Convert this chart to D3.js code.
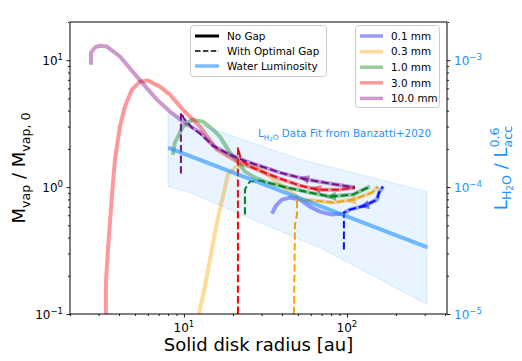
<!DOCTYPE html>
<html><head><meta charset="utf-8">
<script src="https://cdn.jsdelivr.net/npm/d3@7"></script>
<style>body{margin:0;background:#fff}svg{font-family:"DejaVu Sans",sans-serif}</style>
</head><body><svg id="c" width="522" height="361"></svg>
<script>
// ---------------- data ----------------
const sizes = ["0.1 mm", "0.3 mm", "1.0 mm", "3.0 mm", "10.0 mm"];
const colors = ["blue", "orange", "green", "red", "purple"];

// No gap (solid) curves: radius [au], Mvap/Mvap0
const solid01X = [34.67, 36.68, 39.93, 44.72, 51.5, 59.29, 68.29, 80.9, 94.5, 104.3, 128.9, 152.8, 157.2, 166.3];
const solid01Y = [0.618, 0.715, 0.797, 0.827, 0.797, 0.702, 0.641, 0.607, 0.618, 0.665, 0.715, 0.797, 0.905, 1.009];
const solid03X = [12.36, 13.45, 14.43, 15.94, 17.35, 18.62, 20.56, 23.0, 28.05, 33.7, 41.64, 49.35, 51.5, 61.85, 82.1, 108.9, 142.4, 155];
const solid03Y = [0.1, 0.164, 0.268, 0.525, 0.842, 1.254, 1.42, 1.53, 1.42, 1.21, 0.991, 0.842, 0.797, 0.783, 0.755, 0.797, 0.905, 1.009];
const solid10X = [8.56, 8.80, 9.86, 11.20, 13.08, 15.07, 16.63, 19.15, 21.44, 23.67, 27.27, 31.40, 40.50, 59.29, 78.6, 108.9, 138.4];
const solid10Y = [1.80, 2.24, 3.00, 3.40, 3.28, 2.84, 2.50, 1.87, 1.588, 1.325, 1.188, 1.105, 1.009, 0.905, 0.842, 0.873, 1.009];
const solid30X = [3.323, 3.323, 3.418, 3.6, 3.773, 4.050, 4.345, 4.797, 5.372, 6.014, 7.125, 8.207, 9.86, 12.54, 15.94, 21.14, 25.41, 32.30, 38.82, 51.5, 66.4, 90.6, 112.0];
const solid30Y = [0.1, 0.177, 0.322, 0.797, 1.647, 3.00, 4.31, 5.87, 6.78, 6.91, 6.19, 5.36, 4.08, 3.00, 1.975, 1.588, 1.451, 1.278, 1.167, 1.028, 0.955, 0.955, 0.991];
const solid100X = [2.69, 2.69, 2.85, 3.05, 3.37, 4.05, 5.53, 6.83, 8.21, 9.86, 12.54, 15.07, 19.15, 24.35, 38.82, 56.83, 78.6, 112.0];
const solid100Y = [9.2, 11.5, 12.6, 13.0, 12.8, 10.7, 6.66, 4.89, 3.94, 3.28, 2.70, 2.12, 1.80, 1.588, 1.301, 1.146, 1.066, 0.991];

// With optimal gap (dashed) curves
const dash01X = [95.8, 95.8, 104.3, 128.9, 152.8, 157.2, 166.3];
const dash01Y = [0.322, 0.630, 0.665, 0.715, 0.797, 0.905, 1.009];
const dash03X = [47.3, 48.0, 49.35, 49.35, 51.5, 61.85, 82.1, 108.9, 142.4, 155];
const dash03Y = [0.1, 0.506, 0.607, 0.842, 0.797, 0.783, 0.755, 0.797, 0.905, 1.009];
const dash10X = [23.67, 23.67, 24.35, 25.41, 29.27, 40.50, 59.29, 78.6, 108.9, 138.4];
const dash10Y = [0.607, 0.95, 1.028, 1.105, 1.125, 1.009, 0.905, 0.842, 0.873, 1.009];
const dash30X = [21.44, 21.44, 22.37, 25.41, 32.30, 38.82, 51.5, 66.4, 90.6, 112.0];
const dash30Y = [0.1, 2.05, 1.647, 1.451, 1.278, 1.167, 1.028, 0.955, 0.955, 0.991];
const dash100X = [9.58, 9.58, 10.0, 11.20, 12.54, 15.07, 19.15, 24.35, 38.82, 56.83, 78.6, 112.0];
const dash100Y = [1.278, 3.87, 3.47, 2.94, 2.64, 2.12, 1.80, 1.588, 1.301, 1.146, 1.066, 0.991];

// direction arrows on dashed curves (same order as sizes)
const arrowX = [128.9, 107.3, 80.9, 65.5, 55.25];
const arrowY = [0.715, 0.783, 0.842, 0.973, 1.167];

// water luminosity (right axis)
const waterX = [8.0, 312];
const waterY = [2.05e-4, 3.35e-5];
const bandUpX = [8.0, 9.45, 49.35, 310];
const bandUpY = [3.87e-4, 3.53e-4, 1.68e-4, 9.2e-5];
const bandLoX = [8.0, 10.89, 51.5, 68.3, 310];
const bandLoY = [1.01e-4, 9.05e-5, 3.86e-5, 3.34e-5, 1.19e-5];

const xMajor = [10, 100];
const yMajor = [0.1, 1, 10];
const y2Major = [1e-5, 1e-4, 1e-3];
const xTickLabels = [["10", "1"], ["10", "2"]];
const yTickLabels = [["10", "\u22121"], ["10", "0"], ["10", "1"]];
const y2TickLabels = [["10", "\u22125"], ["10", "\u22124"], ["10", "\u22123"]];

// ---------------- chart ----------------
const L = 70, R = 447, T = 22, B = 314;
const x = d3.scaleLog().domain([2, 411]).range([L, R]);
const y = d3.scaleLog().domain([0.1, 20]).range([B, T]);
const y2 = d3.scaleLog().domain([1e-5, 2e-3]).range([B, T]);
const svg = d3.select("#c");
svg.append("defs").append("clipPath").attr("id", "clip")
  .append("rect").attr("x", L).attr("y", T).attr("width", R - L).attr("height", B - T);
const plot = svg.append("g").attr("clip-path", "url(#clip)");
const zip = (a, b) => a.map((v, i) => [v, b[i]]);
const line = d3.line().x(d => x(d[0])).y(d => y(d[1]));
const line2 = d3.line().x(d => x(d[0])).y(d => y2(d[1]));

const solids = [[solid01X, solid01Y], [solid03X, solid03Y], [solid10X, solid10Y], [solid30X, solid30Y], [solid100X, solid100Y]];
const dashes = [[dash01X, dash01Y], [dash03X, dash03Y], [dash10X, dash10Y], [dash30X, dash30Y], [dash100X, dash100Y]];

solids.forEach((s, i) => {
  plot.append("path").attr("d", line(zip(s[0], s[1]))).attr("fill", "none")
    .attr("stroke", colors[i]).attr("stroke-opacity", 0.4).attr("stroke-width", 4)
    .attr("stroke-linejoin", "round");
});
dashes.forEach((s, i) => {
  plot.append("path").attr("d", line(zip(s[0], s[1]))).attr("fill", "none")
    .attr("stroke", colors[i]).attr("stroke-width", 2).attr("stroke-dasharray", "7.4,3.2");
});
// arrows
arrowX.forEach((axv, i) => {
  const dx = dashes[i][0], dy = dashes[i][1];
  let k = 1;
  for (let j = 2; j < dx.length; j++) { if (dx[j - 1] <= axv && axv <= dx[j]) { k = j; break; } }
  const p0 = [x(dx[k - 1]), y(dy[k - 1])], p1 = [x(dx[k]), y(dy[k])];
  const ang = Math.atan2(p0[1] - p1[1], p0[0] - p1[0]) * 180 / Math.PI;
  plot.append("path").attr("d", "M6,0L-4,-4.5L-4,4.5Z")
    .attr("transform", `translate(${x(axv)},${y(arrowY[i])}) rotate(${ang})`)
    .attr("fill", colors[i]).attr("fill-opacity", 0.5);
});
// twin axis content
const band = zip(bandUpX, bandUpY).concat(zip(bandLoX, bandLoY).reverse());
plot.append("path").attr("d", line2(band) + "Z").attr("fill", "dodgerblue").attr("fill-opacity", 0.1)
  .attr("stroke", "dodgerblue").attr("stroke-opacity", 0.15).attr("stroke-width", 1);
plot.append("path").attr("d", line2(zip(waterX, waterY))).attr("fill", "none")
  .attr("stroke", "dodgerblue").attr("stroke-opacity", 0.6).attr("stroke-width", 4);

// annotation
const ann = svg.append("text").attr("x", 258).attr("y", 137).attr("fill", "dodgerblue").attr("font-size", 10.4);
ann.append("tspan").text("L");
ann.append("tspan").attr("font-size", 7.3).attr("dy", 2.5).text("H");
ann.append("tspan").attr("font-size", 5.5).attr("dy", 1.5).text("2");
ann.append("tspan").attr("font-size", 7.3).attr("dy", -1.5).text("O");
ann.append("tspan").attr("dy", -2.5).text(" Data Fit from Banzatti+2020");

// axes ticks
function minorTicks(dom) {
  const out = [];
  for (let e = -6; e <= 3; e++) for (let m = 2; m <= 9; m++) {
    const v = m * Math.pow(10, e);
    if (v >= dom[0] * 0.9999 && v <= dom[1] * 1.0001) out.push(v);
  }
  return out;
}
const axes = svg.append("g");
axes.append("g").attr("transform", `translate(0,${B})`).call(d3.axisBottom(x).tickValues(xMajor).tickSize(3.5).tickFormat(""));
axes.append("g").attr("transform", `translate(0,${B})`).call(d3.axisBottom(x).tickValues(minorTicks(x.domain())).tickSize(2).tickFormat(""));
axes.append("g").attr("transform", `translate(${L},0)`).call(d3.axisLeft(y).tickValues(yMajor).tickSize(3.5).tickFormat(""));
axes.append("g").attr("transform", `translate(${L},0)`).call(d3.axisLeft(y).tickValues(minorTicks(y.domain())).tickSize(2).tickFormat(""));
axes.append("g").attr("transform", `translate(${R},0)`).call(d3.axisRight(y2).tickValues(y2Major).tickSize(3.5).tickFormat(""));
axes.append("g").attr("transform", `translate(${R},0)`).call(d3.axisRight(y2).tickValues(minorTicks(y2.domain())).tickSize(2).tickFormat(""));
axes.selectAll(".domain").remove();
axes.selectAll(".tick line").attr("stroke", "#000").attr("stroke-width", 0.9);
// clean band along the top edge of the frame
svg.append("rect").attr("x", L - 1).attr("y", 0).attr("width", R - L + 2).attr("height", T + 2.5).attr("fill", "#fff");
svg.append("rect").attr("x", L).attr("y", T).attr("width", R - L).attr("height", B - T)
  .attr("fill", "none").attr("stroke", "#000").attr("stroke-width", 1);

function powLabel(px, py, lab, anchor, color) {
  const t = svg.append("text").attr("x", px).attr("y", py).attr("text-anchor", anchor)
    .attr("font-size", 12).attr("fill", color);
  t.append("tspan").text(lab[0]);
  t.append("tspan").attr("font-size", 8.5).attr("dy", -5).text(lab[1]);
}
xMajor.forEach((v, i) => powLabel(x(v), 332, xTickLabels[i], "middle", "#000"));
yMajor.forEach((v, i) => powLabel(63, y(v) + 4.5, yTickLabels[i], "end", "#000"));
y2Major.forEach((v, i) => powLabel(454, y2(v) + 4.5, y2TickLabels[i], "start", "dodgerblue"));

// axis labels
svg.append("text").attr("x", (L + R) / 2).attr("y", 351).attr("text-anchor", "middle").attr("font-size", 18)
  .text("Solid disk radius [au]");
const yl = svg.append("text").attr("transform", "translate(25,168) rotate(-90)").attr("text-anchor", "middle").attr("font-size", 18);
yl.append("tspan").text("M");
yl.append("tspan").attr("font-size", 12.6).attr("dy", 4.5).text("vap");
yl.append("tspan").attr("dy", -4.5).text(" / M");
yl.append("tspan").attr("font-size", 12.6).attr("dy", 4.5).text("vap, 0");

const yr = svg.append("text").attr("transform", "translate(507,168) rotate(-90)").attr("text-anchor", "middle")
  .attr("font-size", 18).attr("fill", "dodgerblue");
yr.append("tspan").text("L");
yr.append("tspan").attr("font-size", 12.6).attr("dy", 4).text("H");
yr.append("tspan").attr("font-size", 9).attr("dy", 2).text("2");
yr.append("tspan").attr("font-size", 12.6).attr("dy", -2).text("O");
yr.append("tspan").attr("dy", -4).text(" / L");
const sup = yr.append("tspan").attr("font-size", 12.6).attr("dy", -8).text("0.6");
const supW = sup.node().getComputedTextLength();
yr.append("tspan").attr("font-size", 12.6).attr("dx", -supW).attr("dy", 13).text("acc");

// legends
function legendBox(x0, y0, w, h) {
  svg.append("rect").attr("x", x0).attr("y", y0).attr("width", w).attr("height", h).attr("rx", 3)
    .attr("fill", "#fff").attr("fill-opacity", 0.8).attr("stroke", "#ccc").attr("stroke-width", 1);
}
const leg1 = [["No Gap", "#000", 3, "none", 1], ["With Optimal Gap", "#000", 1.6, "5.5,2.4", 1], ["Water Luminosity", "dodgerblue", 3.5, "none", 0.6]];
legendBox(190.5, 25.5, 136, 51);
leg1.forEach((d, i) => {
  const yy = 36 + i * 15;
  svg.append("line").attr("x1", 195).attr("x2", 219).attr("y1", yy).attr("y2", yy)
    .attr("stroke", d[1]).attr("stroke-width", d[2]).attr("stroke-dasharray", d[3]).attr("stroke-opacity", d[4]);
  svg.append("text").attr("x", 227).attr("y", yy + 3.8).attr("font-size", 10.4).text(d[0]);
});
legendBox(355.5, 25.5, 84, 82);
sizes.forEach((s, i) => {
  const yy = 36 + i * 15.6;
  svg.append("line").attr("x1", 360).attr("x2", 383).attr("y1", yy).attr("y2", yy)
    .attr("stroke", colors[i]).attr("stroke-opacity", 0.4).attr("stroke-width", 3.5);
  svg.append("text").attr("x", 391).attr("y", yy + 3.8).attr("font-size", 10.4).text(s);
});
</script></body></html>
